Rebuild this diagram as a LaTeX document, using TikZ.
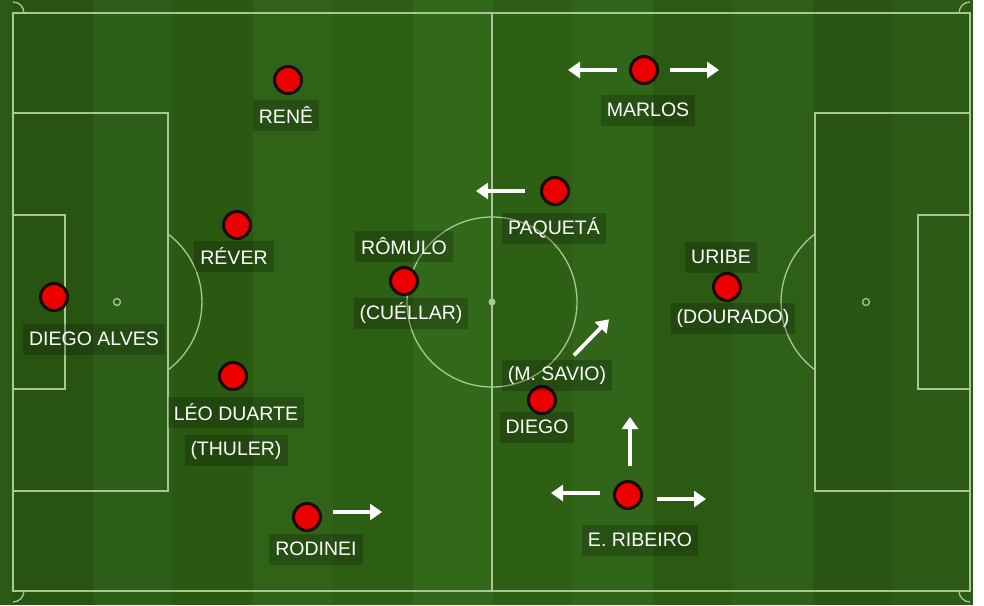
\documentclass[tikz,border=0pt]{standalone}
\usepackage{fontspec}
\setmainfont{Liberation Sans}
\usetikzlibrary{arrows.meta}

\definecolor{grassL}{HTML}{33691A}
\definecolor{grassD}{HTML}{2E6114}
\definecolor{lineclr}{HTML}{A9C795}
\definecolor{dotred}{HTML}{EC0000}
\definecolor{dotrim}{HTML}{1C0804}

\tikzset{
  pitchline/.style={draw=lineclr, line width=1.3pt},
  player/.style={circle, fill=dotred, draw=dotrim, line width=3pt, minimum size=27pt, inner sep=0pt},
  tag/.style={fill=black, fill opacity=0.2, text opacity=1, text=white,
    font=\fontsize{19.5}{22}\selectfont, inner xsep=6pt, inner ysep=0pt, minimum height=31pt},
  run/.style={draw=white, line width=3.8pt, -{Triangle[length=12pt,width=16pt]}}
}

\begin{document}
\begin{tikzpicture}[x=1pt, y=-1pt]
\useasboundingbox (0,0) rectangle (984,605);

% Grass stripes, darker towards the sides
\foreach \k in {0,...,12} {
  \pgfmathsetmacro\xa{-67+80*\k}
  \pgfmathsetmacro\pct{100-0.03*abs(\xa+40-492)}
  \ifodd\k
    \colorlet{strip}{grassD!\pct!black}
  \else
    \colorlet{strip}{grassL!\pct!black}
  \fi
  \fill[strip] (\xa,0) rectangle +(80,605);
}

% Pitch markings
\draw[pitchline] (13,13) rectangle (970,591);
\draw[pitchline] (492,13) -- (492,591);
\draw[pitchline] (492,302) circle (85);
\fill[lineclr] (492,302) circle (3.5);
% left side
\draw[pitchline] (13,113) rectangle (168,491);
\draw[pitchline] (13,215) rectangle (65,389);
\draw[pitchline] (117,302) circle (3.5);
\draw[pitchline] (168,234) arc[start angle=-53.1, end angle=53.1, radius=85];
% right side
\draw[pitchline] (815,113) rectangle (970,491);
\draw[pitchline] (918,215) rectangle (970,389);
\draw[pitchline] (866,302) circle (3.5);
\draw[pitchline] (815,234) arc[start angle=233.1, end angle=126.9, radius=85];
% corners
\draw[pitchline] (24,13) arc[start angle=0, end angle=-90, radius=11];
\draw[pitchline] (959,13) arc[start angle=180, end angle=270, radius=11];
\draw[pitchline] (24,591) arc[start angle=0, end angle=90, radius=11];
\draw[pitchline] (959,591) arc[start angle=180, end angle=90, radius=11];

% Players
\node[player] (alves) at (54,297) {};
\node[player] (rene) at (288,80) {};
\node[player] (rever) at (237,225) {};
\node[player] (leo) at (233,376) {};
\node[player] (rodinei) at (307,517) {};
\node[player] (romulo) at (404,281) {};
\node[player] (paqueta) at (555,191) {};
\node[player] (marlos) at (644,70) {};
\node[player] (uribe) at (727,287) {};
\node[player] (diego) at (542,400) {};
\node[player] (ribeiro) at (628,495) {};

% Names
\node[tag] (alvesname) at (94,339) {DIEGO ALVES};
\node[tag] (renename) at (286,115) {RENÊ};
\node[tag] (revername) at (234,256) {RÉVER};
\node[tag] (leoname) at (236,412) {LÉO DUARTE};
\node[tag] (thulername) at (236,450) {(THULER)};
\node[tag] (rodineiname) at (316,549) {RODINEI};
\node[tag] (romuloname) at (404,246) {RÔMULO};
\node[tag] (cuellarname) at (411,313) {(CUÉLLAR)};
\node[tag] (paquetaname) at (554,228) {PAQUETÁ};
\node[tag] (marlosname) at (648,110) {MARLOS};
\node[tag] (uribename) at (721,257) {URIBE};
\node[tag] (douradoname) at (733,318) {(DOURADO)};
\node[tag] (savioname) at (557,375) {(M. SAVIO)};
\node[tag] (diegoname) at (537,427) {DIEGO};
\node[tag] (ribeironame) at (640,540) {E. RIBEIRO};

% Movement arrows
\draw[run] (rodinei) ++(26,-5) -- ++(49,0);
\draw[run] (paqueta) ++(-30,0) -- ++(-49,0);
\draw[run] (marlos) ++(-27,0) -- ++(-49,0);
\draw[run] (marlos) ++(26,0) -- ++(49,0);
\draw[run] (savioname.north) ++(17,-4) -- ++(35,-36);
\draw[run] (ribeiro) ++(2,-29) -- ++(0,-49);
\draw[run] (ribeiro) ++(-28,-2) -- ++(-49,0);
\draw[run] (ribeiro) ++(29,4) -- ++(49,0);
\end{tikzpicture}
\end{document}
